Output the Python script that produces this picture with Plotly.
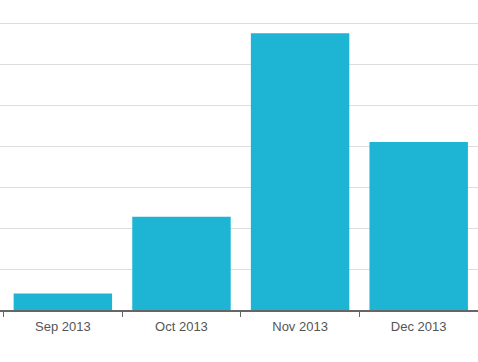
import plotly.graph_objects as go

months = ["Sep 2013", "Oct 2013", "Nov 2013", "Dec 2013"]
values = [8, 45.5, 135, 82]
grid_step = 20
grid_max = 144.9

fig = go.Figure(go.Bar(x=months, y=values, marker=dict(color="#1eb4d4", line=dict(width=0))))
fig.update_layout(
    width=478, height=362,
    margin=dict(l=0, r=0, t=13, b=52),
    plot_bgcolor="white", paper_bgcolor="white",
    bargap=0.17, showlegend=False,
    font=dict(family="Liberation Sans, Arial, sans-serif", size=13, color="#555555"),
)
fig.update_xaxes(
    showline=True, linecolor="#666666", linewidth=1.5,
    ticks="outside", ticklen=5, tickcolor="#666666", tickson="boundaries",
    ticklabelstandoff=4,
    showgrid=False, range=[-0.53, 3.5],
)
fig.update_yaxes(
    range=[0, grid_max], dtick=grid_step, showticklabels=False,
    showgrid=True, gridcolor="#dddddd", gridwidth=1, zeroline=False, ticks="",
)
fig.write_html("out.html", config={"displayModeBar": False},
               post_script="document.body.style.margin='0';")
